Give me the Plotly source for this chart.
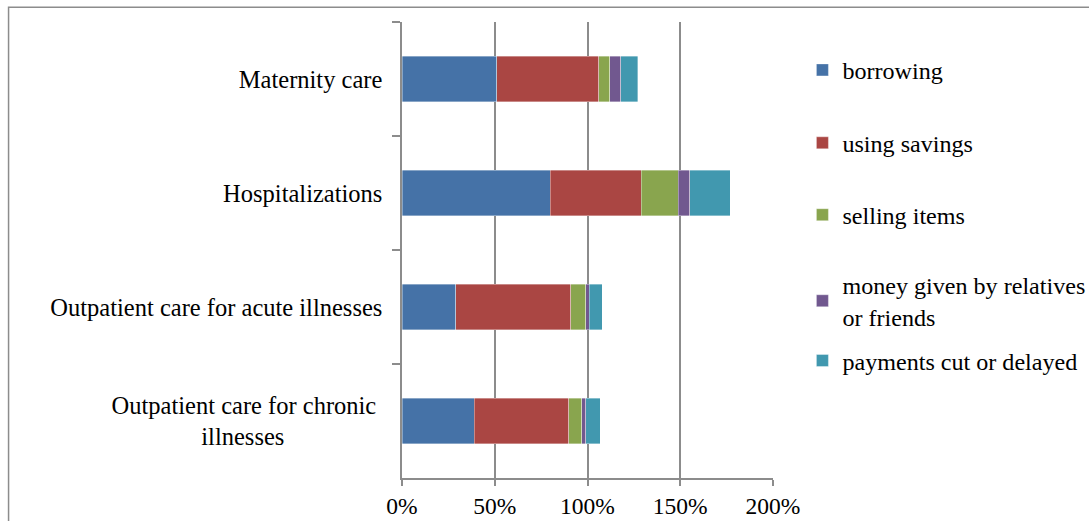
import plotly.graph_objects as go

# Categories (top to bottom) and the share of households using each coping strategy (%)
categories = [
    "Maternity care",
    "Hospitalizations",
    "Outpatient care for acute illnesses",
    "Outpatient care for chronic\u00a0<br>illnesses" + "\u00a0" * 16,
]
series_names = [
    "borrowing",
    "using savings",
    "selling items",
    "money given by relatives<br>or friends",
    "payments cut or delayed",
]
borrowing = [51, 80, 29, 39]
using_savings = [55, 49, 62, 51]
selling_items = [6, 20, 8, 7]
relatives_friends = [6, 6, 2, 2]
payments_cut = [9, 22, 7, 8]
x_ticks = [0, 50, 100, 150, 200]
x_tick_labels = ["0%", "50%", "100%", "150%", "200%"]

series_values = [borrowing, using_savings, selling_items, relatives_friends, payments_cut]
colors = ["#4572A7", "#AA4643", "#89A54E", "#71588F", "#4198AF"]

FONT = "Liberation Serif"
FS = 24.5
GRID = "#8c8c8c"

# plot-area geometry in pixels (used to place legends and frame)
W, H = 1089, 521
L, R, T, B = 401.5, 773.5, 21.7, 478.3
pw, ph = R - L, B - T

fig = go.Figure()
legend_names = ["legend", "legend2", "legend3", "legend4", "legend5"]
legend_centers = [70, 143, 215, 301, 361]

for name, vals, col, lg in zip(series_names, series_values, colors, legend_names):
    fig.add_trace(go.Bar(
        y=categories, x=vals, name=name, orientation="h",
        marker=dict(color=col, line=dict(color="rgba(255,255,255,0.45)", width=0.8)),
        width=0.4, legend=lg, showlegend=True,
    ))

layout_legends = {}
for lg, cy in zip(legend_names, legend_centers):
    layout_legends[lg] = dict(
        x=(803 - L) / pw, xanchor="left",
        y=(B - cy) / ph, yanchor="middle",
        bgcolor="rgba(0,0,0,0)",
        font=dict(family=FONT, size=24.1, color="#000"),
        visible=True,
    )

fig.update_layout(
    barmode="stack",
    width=W, height=H,
    margin=dict(l=L, r=W - R, t=T, b=H - B, pad=0, autoexpand=False),
    paper_bgcolor="white", plot_bgcolor="white",
    font=dict(family=FONT, size=FS, color="#000"),
    showlegend=True,
    **layout_legends,
)

fig.update_xaxes(
    range=[0, 200], tickmode="array", tickvals=x_ticks, ticktext=x_tick_labels,
    showgrid=True, gridcolor=GRID, gridwidth=1.5,
    zeroline=False, automargin=False,
    showline=True, linecolor=GRID, linewidth=1.5,
    ticks="outside", ticklen=6, tickcolor=GRID, tickwidth=1.5,
    ticklabelstandoff=0,
    tickfont=dict(family=FONT, size=23.5, color="#000"),
    fixedrange=True,
)
fig.update_yaxes(
    categoryorder="array", categoryarray=categories,
    autorange="reversed", automargin=False,
    showgrid=False, zeroline=False,
    showline=True, linecolor=GRID, linewidth=1.5,
    ticks="outside", ticklen=8, tickcolor=GRID, tickwidth=1.5,
    tickson="boundaries", ticklabelstandoff=13,
    tickfont=dict(family=FONT, size=FS, color="#000"),
    fixedrange=True,
)

# outer chart frame
fig.add_shape(
    type="rect", xref="paper", yref="paper",
    x0=(7 - L) / pw, x1=(W + 20 - L) / pw,
    y0=(B - (H + 20)) / ph, y1=(B - 7) / ph,
    line=dict(color="#8c8c8c", width=1.5), fillcolor="rgba(0,0,0,0)", layer="below",
)

fig.write_html("out.html", config={"displayModeBar": False})
